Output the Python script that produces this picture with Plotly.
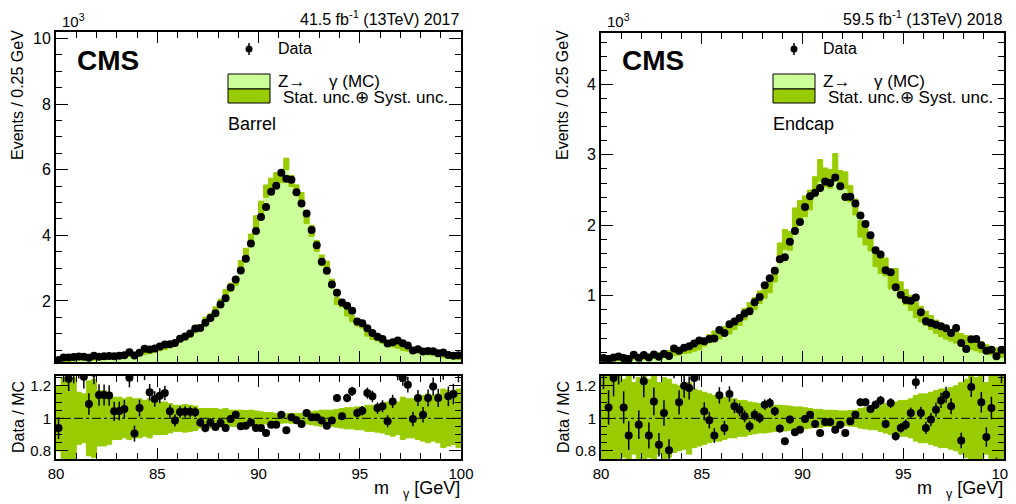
import numpy as np
import plotly.graph_objects as go

# the page body has an 8px margin, so the figure is shifted by it
OFF = 8
W, H = 1016 - OFF, 504 - OFF
FONT = "Liberation Sans, Arial, sans-serif"

# 0.25 GeV binning between 80 and 100 GeV
bin_edges = np.linspace(80.0, 100.0, 81)
bin_centers = 0.5 * (bin_edges[:-1] + bin_edges[1:])

# --- 2017 barrel (units of 10^3 events) ---
mc_2017 = [0.21, 0.215, 0.22, 0.228, 0.235, 0.242, 0.25, 0.257, 0.265, 0.275,
           0.285, 0.30, 0.315, 0.33, 0.35, 0.37, 0.395, 0.42, 0.45, 0.49,
           0.535, 0.58, 0.65, 0.73, 0.82, 0.88, 0.97, 1.12, 1.21, 1.42,
           1.52, 1.72, 1.95, 2.22, 2.42, 2.60, 3.08, 3.44, 3.85, 4.40,
           4.85, 5.35, 5.55, 5.74, 5.78, 6.18, 5.66, 5.38, 5.15, 4.52,
           4.14, 3.68, 3.24, 3.06, 2.54, 2.00, 1.93, 1.65, 1.46, 1.33,
           1.26, 1.01, 0.90, 0.855, 0.78, 0.72, 0.67, 0.62, 0.57, 0.53,
           0.49, 0.47, 0.45, 0.42, 0.39, 0.36, 0.33, 0.31, 0.29, 0.27]
ratio_2017 = [0.94, 1.30, 1.243, 1.29, 1.32, 1.255, 1.088, 1.28, 1.143, 1.143,
              1.14, 1.043, 1.045, 1.057, 1.25, 0.906, 1.063, 1.29, 1.16, 1.119,
              1.139, 1.155, 1.043, 0.986, 1.039, 1.04, 1.04, 1.038, 0.975, 0.94,
              0.975, 0.947, 0.971, 0.94, 0.996, 1.022, 0.951, 0.955, 0.975, 0.94,
              0.94, 0.91, 0.961, 0.961, 1.022, 0.926, 1.006, 0.988, 0.965, 1.033,
              1.006, 1.006, 0.986, 0.955, 0.986, 1.125, 1.012, 1.125, 1.166, 1.033,
              1.047, 1.155, 1.135, 1.063, 1.074, 0.982, 1.104, 1.28, 1.247, 1.207,
              0.996, 1.125, 1.022, 1.125, 1.196, 1.125, 1.30, 1.135, 1.149, 1.29]
unc_2017 = [0.20, 0.25, 0.26, 0.25, 0.16, 0.15, 0.23, 0.24, 0.17, 0.17,
            0.16, 0.13, 0.13, 0.12, 0.13, 0.12, 0.12, 0.11, 0.12, 0.10,
            0.10, 0.10, 0.09, 0.08, 0.08, 0.085, 0.08, 0.075, 0.06, 0.06,
            0.06, 0.06, 0.055, 0.06, 0.05, 0.05, 0.05, 0.048, 0.05, 0.045,
            0.04, 0.035, 0.035, 0.03, 0.03, 0.028, 0.03, 0.03, 0.03, 0.035,
            0.04, 0.045, 0.05, 0.05, 0.05, 0.055, 0.06, 0.065, 0.065, 0.07,
            0.07, 0.08, 0.08, 0.085, 0.09, 0.10, 0.11, 0.10, 0.13, 0.12,
            0.12, 0.13, 0.14, 0.15, 0.14, 0.15, 0.18, 0.17, 0.16, 0.18]

# --- 2018 endcap (units of 10^3 events) ---
mc_2018 = [0.09, 0.095, 0.10, 0.105, 0.11, 0.115, 0.12, 0.125, 0.13, 0.14,
           0.15, 0.16, 0.17, 0.18, 0.19, 0.20, 0.22, 0.24, 0.26, 0.28,
           0.34, 0.39, 0.44, 0.45, 0.50, 0.52, 0.59, 0.65, 0.74, 0.82,
           0.89, 0.98, 1.06, 1.14, 1.30, 1.62, 1.80, 1.78, 2.10, 2.20,
           2.27, 2.36, 2.55, 2.78, 2.68, 2.66, 2.88, 2.66, 2.64, 2.45,
           2.26, 1.95, 1.84, 1.76, 1.52, 1.43, 1.41, 1.22, 1.26, 1.08,
           0.98, 0.90, 0.80, 0.74, 0.68, 0.62, 0.56, 0.51, 0.47, 0.44,
           0.41, 0.38, 0.35, 0.32, 0.29, 0.27, 0.25, 0.22, 0.20, 0.18]
ratio_2018 = [1.30, 1.067, 1.247, 1.32, 1.067, 0.894, 1.35, 0.961, 1.227, 0.894,
              1.104, 0.838, 1.033, 0.804, 1.33, 1.098, 1.20, 1.186, 1.247, 1.30,
              1.043, 0.988, 0.894, 1.141, 0.941, 1.149, 1.074, 1.053, 1.012, 0.951,
              1.022, 1.002, 1.084, 1.094, 1.043, 0.937, 0.859, 0.992, 0.914, 0.93,
              0.996, 1.022, 0.965, 0.91, 0.978, 0.978, 0.93, 0.961, 0.91, 0.982,
              1.022, 1.098, 1.098, 1.057, 1.084, 1.11, 0.965, 1.094, 0.89, 0.941,
              0.961, 1.033, 1.221, 1.033, 0.941, 0.992, 1.053, 1.11, 1.145, 1.074,
              1.32, 0.863, 0.70, 1.192, 1.33, 1.098, 0.885, 1.063, 0.70, 1.30]
unc_2018 = [0.30, 0.28, 0.30, 0.26, 0.24, 0.27, 0.22, 0.25, 0.28, 0.24,
            0.26, 0.22, 0.25, 0.24, 0.21, 0.20, 0.19, 0.22, 0.18, 0.17,
            0.16, 0.15, 0.14, 0.14, 0.13, 0.12, 0.12, 0.11, 0.11, 0.10,
            0.095, 0.09, 0.09, 0.085, 0.08, 0.08, 0.078, 0.075, 0.07, 0.07,
            0.065, 0.06, 0.055, 0.055, 0.05, 0.05, 0.048, 0.045, 0.045, 0.048,
            0.05, 0.06, 0.065, 0.07, 0.07, 0.08, 0.09, 0.10, 0.10, 0.11,
            0.11, 0.12, 0.14, 0.15, 0.15, 0.16, 0.17, 0.18, 0.18, 0.19,
            0.20, 0.22, 0.24, 0.26, 0.25, 0.28, 0.22, 0.27, 0.30, 0.30]

panels = [
    dict(mc=mc_2017, ratio=ratio_2017, unc=unc_2017, left=56, right=461, top=32,
         yrange=[0.14, 10.2], ydtick=2, yminor=0.5,
         lumi="41.5 fb<sup>-1</sup> (13TeV) 2017", region="Barrel", ax=("", "2")),
    dict(mc=mc_2018, ratio=ratio_2018, unc=unc_2018, left=601, right=1004, top=33,
         yrange=[0.06, 4.73], ydtick=1, yminor=0.2,
         lumi="59.5 fb<sup>-1</sup> (13TeV) 2018", region="Endcap", ax=("3", "4")),
]

MC_COLOR = "#ccff99"
BAND_COLOR = "#99cc00"


def px(x):
    # window pixel -> paper coordinate
    return (x - OFF) / W


def py(y):
    return 1 - (y - OFF) / H


fig = go.Figure()
annotations = []
shapes = []

for p in panels:
    mc = np.array(p["mc"])
    ratio = np.array(p["ratio"])
    unc = np.array(p["unc"])
    data = mc * ratio
    data_err = np.sqrt(data * 1000) / 1000
    ratio_err = np.sqrt(data * 1000) / (mc * 1000)
    am, ar = p["ax"]
    xm, ym = "x" + am, "y" + am
    xr, yr = "x" + ar, "y" + ar

    # main panel: MC histogram, uncertainty band, data
    fig.add_trace(go.Bar(x=bin_centers, y=mc, width=0.25,
                         marker=dict(color=MC_COLOR, line=dict(width=1, color=MC_COLOR)),
                         xaxis=xm, yaxis=ym, showlegend=False))
    fig.add_trace(go.Bar(x=bin_centers, y=2 * mc * unc, base=mc * (1 - unc), width=0.25,
                         marker=dict(color=BAND_COLOR, line=dict(width=1, color=BAND_COLOR)),
                         xaxis=xm, yaxis=ym, showlegend=False))
    fig.add_trace(go.Scatter(x=bin_centers, y=data, mode="markers",
                             marker=dict(color="black", size=8),
                             error_y=dict(type="data", array=data_err, color="black", thickness=1.5, width=0),
                             xaxis=xm, yaxis=ym, showlegend=False))

    # ratio panel
    fig.add_trace(go.Bar(x=bin_centers, y=2 * unc, base=1 - unc, width=0.25,
                         marker=dict(color=BAND_COLOR, line=dict(width=1, color=BAND_COLOR)),
                         xaxis=xr, yaxis=yr, showlegend=False))
    fig.add_trace(go.Scatter(x=bin_centers, y=ratio, mode="markers",
                             marker=dict(color="black", size=8),
                             error_y=dict(type="data", array=ratio_err, color="black", thickness=1.5, width=0),
                             xaxis=xr, yaxis=yr, showlegend=False))

    xdom = [px(p["left"]), px(p["right"])]
    frame = dict(showline=True, linewidth=2, linecolor="black", mirror="allticks", automargin=False,
                 ticks="inside", tickcolor="black", tickwidth=1.2, showgrid=False, zeroline=False,
                 tickfont=dict(family=FONT, size=16, color="black"))
    fig.layout["xaxis" + am] = dict(frame, domain=xdom, range=[80, 100], tick0=80, dtick=5, ticklen=11,
                                    minor=dict(dtick=1, ticklen=6, ticks="inside", tickcolor="black"),
                                    showticklabels=False, anchor=ym)
    fig.layout["yaxis" + am] = dict(frame, domain=[py(362), py(p["top"])], range=p["yrange"],
                                    tick0=0, dtick=p["ydtick"], ticklen=12,
                                    minor=dict(dtick=p["yminor"], ticklen=6, ticks="inside", tickcolor="black"),
                                    anchor=xm)
    fig.layout["xaxis" + ar] = dict(frame, domain=xdom, range=[80, 100], tick0=80, dtick=5, ticklen=11,
                                    minor=dict(dtick=1, ticklen=6, ticks="inside", tickcolor="black"),
                                    anchor=yr, ticklabeloverflow="allow",
                                    tickfont=dict(family=FONT, size=15, color="black"))
    fig.layout["yaxis" + ar] = dict(frame, domain=[py(459), py(376)], range=[0.75, 1.26],
                                    tickvals=[0.8, 1.0, 1.2], ticktext=["0.8", "1", "1.2"], ticklen=12,
                                    minor=dict(dtick=0.05, ticklen=6, ticks="inside", tickcolor="black"),
                                    anchor=xr, tickfont=dict(family=FONT, size=15, color="black"))

    shapes.append(dict(type="line", xref=xr, yref=yr, x0=80, x1=100, y0=1, y1=1,
                       line=dict(color="black", width=1, dash="dashdot")))

    L, R = p["left"], p["right"]
    txt = dict(xref="paper", yref="paper", showarrow=False, font=dict(family=FONT, size=16, color="black"))
    annotations += [
        dict(txt, x=px(L + 4), y=py(32), xanchor="left", yanchor="bottom", text="10<sup>3</sup>",
             font=dict(family=FONT, size=15, color="black")),
        dict(txt, x=px(R + 1), y=py(30), xanchor="right", yanchor="bottom", text=p["lumi"]),
        dict(txt, x=px(L + 19), y=py(60), xanchor="left", yanchor="middle", text="<b>CMS</b>",
             font=dict(family=FONT, size=28, color="black")),
        dict(txt, x=px(L + 220), y=py(49), xanchor="left", yanchor="middle", text="Data"),
        dict(txt, x=px(L + 220), y=py(81), xanchor="left", yanchor="middle",
             text="Z\u2192\u00a0\u00a0\u00a0\u00a0\u00a0\u03b3 (MC)", font=dict(family=FONT, size=17, color="black")),
        dict(txt, x=px(L + 225), y=py(97), xanchor="left", yanchor="middle",
             text="Stat. unc.\u2295 Syst. unc.", font=dict(family=FONT, size=17, color="black")),
        dict(txt, x=px(L + 170), y=py(124), xanchor="left", yanchor="middle", text=p["region"],
             font=dict(family=FONT, size=18, color="black")),
        dict(txt, x=px(L - 38), y=py(28), xanchor="center", yanchor="top", textangle=-90,
             text="Events / 0.25 GeV"),
        dict(txt, x=px(L - 38), y=py(417), xanchor="center", yanchor="middle", textangle=-90,
             text="Data / MC"),
        dict(txt, x=px(R + 1), y=py(503), xanchor="right", yanchor="bottom",
             text="m<sub>\u00a0\u00a0\u00a0\u00a0\u03b3</sub> [GeV]",
             font=dict(family=FONT, size=18, color="black")),
    ]
    # legend symbols
    bx0, bx1 = L + 172, L + 214
    shapes += [
        dict(type="rect", xref="paper", yref="paper", x0=px(bx0), x1=px(bx1), y0=py(89), y1=py(74),
             fillcolor=MC_COLOR, line=dict(color="black", width=1)),
        dict(type="rect", xref="paper", yref="paper", x0=px(bx0), x1=px(bx1), y0=py(103), y1=py(89),
             fillcolor=BAND_COLOR, line=dict(color="black", width=1)),
        dict(type="line", xref="paper", yref="paper", x0=px(L + 193), x1=px(L + 193), y0=py(55), y1=py(43),
             line=dict(color="black", width=1.5)),
        dict(type="circle", xref="paper", yref="paper", x0=px(L + 189.5), x1=px(L + 196.5),
             y0=py(52.5), y1=py(45.5), fillcolor="black", line=dict(color="black", width=0)),
    ]

fig.update_layout(
    width=W, height=H,
    margin=dict(l=0, r=0, t=0, b=0),
    paper_bgcolor="white", plot_bgcolor="white",
    barmode="overlay",
    showlegend=False,
    annotations=annotations,
    shapes=shapes,
    font=dict(family=FONT, color="black"),
)

fig.write_html("out.html")
